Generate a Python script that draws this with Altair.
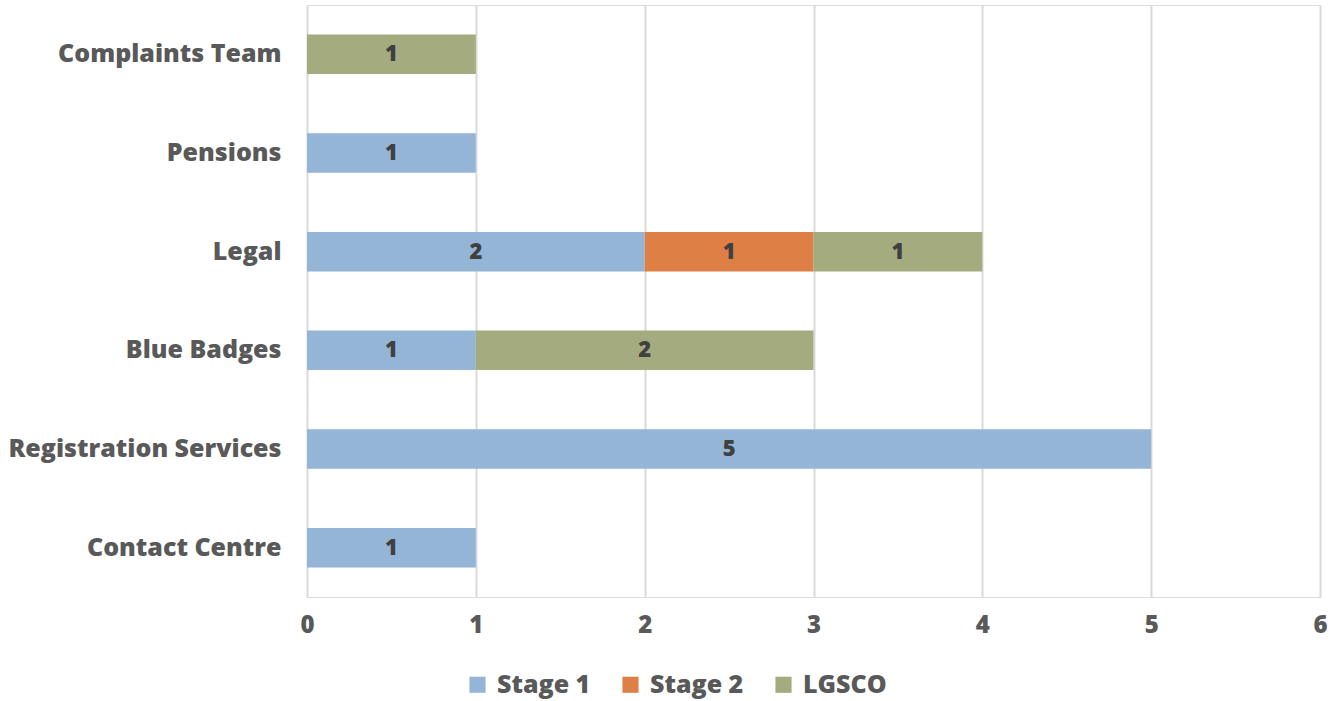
import altair as alt
import pandas as pd

# Complaint counts per service, split by escalation stage
departments = ["Complaints Team", "Pensions", "Legal", "Blue Badges",
               "Registration Services", "Contact Centre"]
stages = ["Stage 1", "Stage 2", "LGSCO"]
stage1 = [0, 1, 2, 1, 5, 1]
stage2 = [0, 0, 1, 0, 0, 0]
lgsco = [1, 0, 1, 2, 0, 0]

colors = ["#94B5D6", "#DE7F46", "#A4AB7F"]
FONT = "Open Sans"

rows = []
for i, dept in enumerate(departments):
    for k, (stage, vals) in enumerate(zip(stages, [stage1, stage2, lgsco])):
        if vals[i] > 0:
            rows.append({"dept": dept, "stage": stage, "order": k, "count": vals[i]})
df = pd.DataFrame(rows)

base = alt.Chart(df).transform_stack(
    stack="count", groupby=["dept"], sort=[alt.SortField("order")], as_=["x0", "x1"]
).transform_calculate(mid="(datum.x0 + datum.x1) / 2")

y_enc = alt.Y("dept:N", sort=departments, title=None,
              scale=alt.Scale(paddingInner=0.6, paddingOuter=0.3),
              axis=alt.Axis(labelFontSize=25, labelFont=FONT, labelFontWeight=800,
                            labelColor="#595959", labelPadding=26, ticks=False,
                            labelLimit=0, domain=False, grid=False))

bars = base.mark_bar().encode(
    x=alt.X("x0:Q", title=None,
            scale=alt.Scale(domain=[0, 6], nice=False),
            axis=alt.Axis(values=[0, 1, 2, 3, 4, 5, 6], format="d",
                          labelFontSize=24, labelFont=FONT, labelFontWeight=800,
                          labelColor="#595959", labelPadding=16, ticks=False,
                          labelFlush=False, domain=False, grid=True,
                          gridColor="#D9D9D9", gridWidth=2)),
    x2="x1:Q",
    y=y_enc,
    color=alt.Color("stage:N", sort=stages,
                    scale=alt.Scale(domain=stages, range=colors),
                    legend=alt.Legend(title=None, orient="none", direction="horizontal",
                                      legendX=158, legendY=667, symbolType="square",
                                      symbolSize=260, symbolStrokeWidth=0,
                                      labelFontSize=25, labelFont=FONT,
                                      labelFontWeight=800, labelColor="#595959",
                                      labelOffset=7, columnPadding=27, padding=0)),
)

labels = base.mark_text(font=FONT, fontSize=22, fontWeight=800, color="#404040",
                        baseline="middle", align="center").encode(
    x=alt.X("mid:Q"),
    y=alt.Y("dept:N", sort=departments),
    text=alt.Text("count:Q"),
)

chart = alt.layer(bars, labels).properties(
    width=1013, height=592,
    autosize=alt.AutoSizeParams(type="none"),
    padding={"left": 307, "top": 5, "right": 21, "bottom": 104},
).configure_view(stroke=None).configure(background="white")

chart.save("out.html", embed_options={"renderer": "svg", "actions": False})
